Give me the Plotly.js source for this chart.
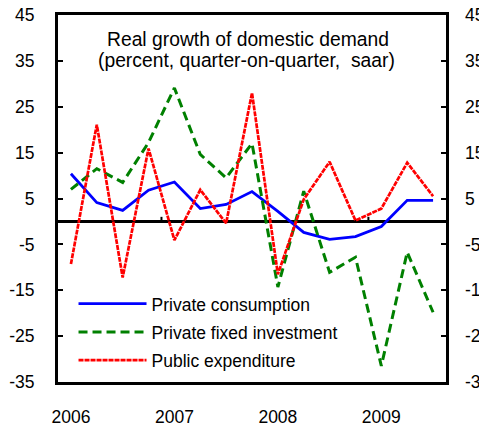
<!DOCTYPE html>
<html>
<head>
<meta charset="utf-8">
<script src="https://cdn.plot.ly/plotly-3.0.1.min.js"></script>
<style>html,body{margin:0;padding:0;background:#fff;}#chart{width:479px;height:426px;}</style>
</head>
<body>
<div id="chart"></div>
<script>
// Quarterly data 2006Q1 .. 2009Q3
const quarters = ["2006Q1","2006Q2","2006Q3","2006Q4","2007Q1","2007Q2","2007Q3","2007Q4","2008Q1","2008Q2","2008Q3","2008Q4","2009Q1","2009Q2","2009Q3"];
const privateConsumption = [10.4, 4.1, 2.4, 6.8, 8.6, 2.8, 3.7, 6.5, 2.2, -2.4, -3.9, -3.3, -1.1, 4.6, 4.6];
const privateFixedInvestment = [7.0, 11.5, 8.5, 17.2, 29.1, 14.6, 9.5, 17.0, -14.3, 6.6, -11.1, -7.8, -31.5, -6.7, -19.8];
const publicExpenditure = [-9.3, 21.1, -12.2, 15.9, -4.1, 6.9, -0.4, 28.0, -11.5, 4.8, 13.0, 0.2, 2.8, 12.8, 5.5];
const yearTickIndex = [0, 4, 8, 12];
const yearTickLabels = ["2006", "2007", "2008", "2009"];
const yTicks = [45, 35, 25, 15, 5, -5, -15, -25, -35];
const seriesNames = ["Private consumption", "Private fixed investment", "Public expenditure"];
const dividerTicks = [3.5, 11.5];

const idx = quarters.map((q, i) => i);
const FONT = "Liberation Sans, Arial, sans-serif";

const traces = [
  {x: idx, y: privateConsumption, name: seriesNames[0], type: "scatter", mode: "lines",
   line: {color: "#0000FF", width: 2.8}, legendgroup: "a"},
  {x: idx, y: privateFixedInvestment, name: seriesNames[1], type: "scatter", mode: "lines",
   line: {color: "#008000", width: 3, dash: "9px,5px"}, legendgroup: "b"},
  {x: idx, y: publicExpenditure, name: seriesNames[2], type: "scatter", mode: "lines",
   line: {color: "#FF0000", width: 2.7, dash: "5px,1px"}, legendgroup: "c"},
  {x: [idx[0], idx[idx.length-1]], y: [null, null], yaxis: "y2", showlegend: false, hoverinfo: "skip", mode: "lines"}
];

const shapes = dividerTicks.map(v => ({
  type: "line", xref: "x", yref: "y", x0: v, x1: v, y0: 0, y1: 1, line: {color: "#000", width: 2}
}));

const layout = {
  width: 479, height: 426,
  margin: {l: 58, r: 33, t: 15, b: 44},
  paper_bgcolor: "#fff", plot_bgcolor: "#fff",
  showlegend: true,
  font: {family: FONT, color: "#000"},
  xaxis: {
    range: [-0.5, 14.5], tickmode: "array", tickvals: yearTickIndex, ticktext: yearTickLabels,
    showgrid: false, zeroline: false, showline: true, linecolor: "#000", linewidth: 3, mirror: true,
    ticks: "", tickfont: {size: 17.5, family: FONT}, ticklabelstandoff: 17
  },
  yaxis: {
    range: [-35, 45], tickmode: "array", tickvals: yTicks, ticktext: yTicks.map(String),
    showgrid: false, zeroline: true, zerolinecolor: "#000", zerolinewidth: 2.5,
    showline: true, linecolor: "#000", linewidth: 3, mirror: true,
    ticks: "inside", ticklen: 5, tickwidth: 2, tickcolor: "#000",
    tickfont: {size: 17.5, family: FONT}, ticklabelstandoff: 17
  },
  yaxis2: {
    overlaying: "y", side: "right", range: [-35, 45], tickmode: "array", tickvals: yTicks,
    ticktext: yTicks.map(String), showgrid: false, zeroline: false, showline: false,
    ticks: "inside", ticklen: 5, tickwidth: 2, tickcolor: "#000",
    tickfont: {size: 17.5, family: FONT}, ticklabelstandoff: 18
  },
  legend: {
    x: 0.04, y: 0.262, xanchor: "left", yanchor: "top", xref: "paper", yref: "paper",
    bgcolor: "rgba(0,0,0,0)", borderwidth: 0,
    font: {size: 17.5, family: FONT, color: "#000"},
    tracegroupgap: 2.5, itemwidth: 68, traceorder: "grouped"
  },
  annotations: [
    {text: "Real growth of domestic demand", xref: "paper", yref: "paper", x: 0.49, y: (382-39)/368,
     xanchor: "center", yanchor: "middle", showarrow: false, font: {size: 19.3, family: FONT}},
    {text: "(percent, quarter-on-quarter,  saar)", xref: "paper", yref: "paper", x: 0.485, y: (382-60)/368,
     xanchor: "center", yanchor: "middle", showarrow: false, font: {size: 19.3, family: FONT}}
  ],
  shapes: shapes
};

Plotly.newPlot("chart", traces, layout, {displayModeBar: false, staticPlot: true});
</script>
</body>
</html>
